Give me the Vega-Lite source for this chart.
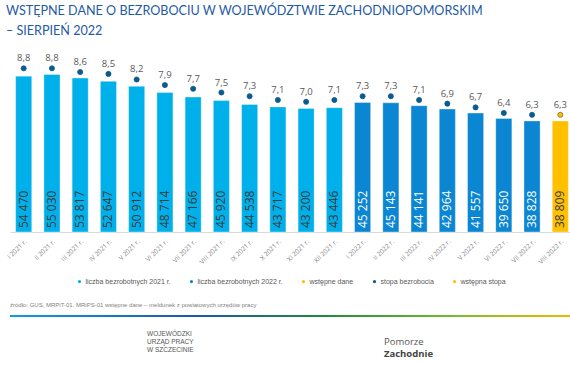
{
  "$schema": "https://vega.github.io/schema/vega-lite/v6.json",
  "padding": {"top": 5, "left": 5, "right": 1, "bottom": 0},
  "background": "white",
  "title": {
    "text": ["WSTĘPNE DANE O BEZROBOCIU W WOJEWÓDZTWIE ZACHODNIOPOMORSKIM", "– SIERPIEŃ 2022"],
    "anchor": "start",
    "frame": "bounds",
    "font": "Lato",
    "fontSize": 12.6,
    "lineHeight": 20,
    "fontWeight": "normal",
    "color": "#1f5aa6",
    "offset": 8
  },
  "config": {
    "view": {"stroke": null},
    "locale": {"number": {"decimal": ",", "thousands": " ", "grouping": [3], "currency": ["", " zł"]}}
  },
  "spacing": 36,
  "vconcat": [
    {
      "width": 564,
      "height": 186,
      "data": {"values": [
        {"m": "I 2021 r.", "n": 54470, "rate": 8.8, "typ": "liczba bezrobotnych 2021 r.", "rtyp": "stopa bezrobocia"},
        {"m": "II 2021 r.", "n": 55030, "rate": 8.8, "typ": "liczba bezrobotnych 2021 r.", "rtyp": "stopa bezrobocia"},
        {"m": "III 2021 r.", "n": 53817, "rate": 8.6, "typ": "liczba bezrobotnych 2021 r.", "rtyp": "stopa bezrobocia"},
        {"m": "IV 2021 r.", "n": 52647, "rate": 8.5, "typ": "liczba bezrobotnych 2021 r.", "rtyp": "stopa bezrobocia"},
        {"m": "V 2021 r.", "n": 50912, "rate": 8.2, "typ": "liczba bezrobotnych 2021 r.", "rtyp": "stopa bezrobocia"},
        {"m": "VI 2021 r.", "n": 48714, "rate": 7.9, "typ": "liczba bezrobotnych 2021 r.", "rtyp": "stopa bezrobocia"},
        {"m": "VII 2021 r.", "n": 47166, "rate": 7.7, "typ": "liczba bezrobotnych 2021 r.", "rtyp": "stopa bezrobocia"},
        {"m": "VIII 2021 r.", "n": 45920, "rate": 7.5, "typ": "liczba bezrobotnych 2021 r.", "rtyp": "stopa bezrobocia"},
        {"m": "IX 2021 r.", "n": 44538, "rate": 7.3, "typ": "liczba bezrobotnych 2021 r.", "rtyp": "stopa bezrobocia"},
        {"m": "X 2021 r.", "n": 43717, "rate": 7.1, "typ": "liczba bezrobotnych 2021 r.", "rtyp": "stopa bezrobocia"},
        {"m": "XI 2021 r.", "n": 43200, "rate": 7.0, "typ": "liczba bezrobotnych 2021 r.", "rtyp": "stopa bezrobocia"},
        {"m": "XII 2021 r.", "n": 43446, "rate": 7.1, "typ": "liczba bezrobotnych 2021 r.", "rtyp": "stopa bezrobocia"},
        {"m": "I 2022 r.", "n": 45252, "rate": 7.3, "typ": "liczba bezrobotnych 2022 r.", "rtyp": "stopa bezrobocia"},
        {"m": "II 2022 r.", "n": 45143, "rate": 7.3, "typ": "liczba bezrobotnych 2022 r.", "rtyp": "stopa bezrobocia"},
        {"m": "III 2022 r.", "n": 44141, "rate": 7.1, "typ": "liczba bezrobotnych 2022 r.", "rtyp": "stopa bezrobocia"},
        {"m": "IV 2022 r.", "n": 42964, "rate": 6.9, "typ": "liczba bezrobotnych 2022 r.", "rtyp": "stopa bezrobocia"},
        {"m": "V 2022 r.", "n": 41557, "rate": 6.7, "typ": "liczba bezrobotnych 2022 r.", "rtyp": "stopa bezrobocia"},
        {"m": "VI 2022 r.", "n": 39650, "rate": 6.4, "typ": "liczba bezrobotnych 2022 r.", "rtyp": "stopa bezrobocia"},
        {"m": "VII 2022 r.", "n": 38828, "rate": 6.3, "typ": "liczba bezrobotnych 2022 r.", "rtyp": "stopa bezrobocia"},
        {"m": "VIII 2022 r.", "n": 38809, "rate": 6.3, "typ": "wstępne dane", "rtyp": "wstępna stopa"}
      ]},
      "encoding": {
        "x": {
          "field": "m", "type": "nominal", "sort": null,
          "scale": {"paddingInner": 0.43, "paddingOuter": 0.2},
          "axis": {
            "title": null, "labelAngle": -45, "labelFontSize": 6.5, "labelFont": "Open Sans",
            "labelColor": "#7f7f7f", "ticks": false, "domainColor": "#d9d9d9", "labelPadding": 6
          }
        }
      },
      "layer": [
        {
          "layer": [
            {
              "mark": {"type": "bar", "stroke": "#ffffff", "strokeOpacity": 0.35, "strokeWidth": 1},
              "encoding": {
                "y": {"field": "n", "type": "quantitative", "scale": {"domain": [0, 64360]}, "axis": null},
                "color": {
                  "field": "typ", "type": "nominal",
                  "scale": {
                    "domain": ["liczba bezrobotnych 2021 r.", "liczba bezrobotnych 2022 r.", "wstępne dane", "stopa bezrobocia", "wstępna stopa"],
                    "range": ["#00b0ea", "#0a86d2", "#ffc000", "#0b5c8c", "#ffc000"]
                  },
                  "legend": {
                    "title": null, "orient": "none", "direction": "horizontal", "legendX": 66, "legendY": 232,
                    "labelFontSize": 7, "labelFont": "Liberation Sans", "labelColor": "#595959",
                    "symbolSize": 22, "columnPadding": 15, "labelOffset": 2.5, "labelLimit": 200,
                    "encode": {"symbols": {"update": {
                      "shape": {"signal": "datum.value === 'stopa bezrobocia' || datum.value === 'wstępna stopa' ? 'circle' : 'square'"},
                      "stroke": {"signal": "datum.value === 'wstępna stopa' ? '#7a6a3a' : 'transparent'"},
                      "strokeWidth": {"value": 0.8}
                    }}}
                  }
                }
              }
            },
            {
              "mark": {"type": "text", "angle": 270, "align": "left", "baseline": "middle", "dx": 4, "font": "Open Sans", "fontSize": 12},
              "encoding": {
                "y": {"datum": 0, "type": "quantitative"},
                "text": {"field": "n", "type": "quantitative", "format": ",d"},
                "color": {"condition": {"test": "datum.typ === 'liczba bezrobotnych 2022 r.'", "value": "#ffffff"}, "value": "#3a3a3a"}
              }
            }
          ]
        },
        {
          "layer": [
            {
              "mark": {"type": "point", "filled": true, "size": 26, "opacity": 1},
              "encoding": {
                "y": {"field": "rate", "type": "quantitative", "scale": {"domain": [0, 9.69]}, "axis": null},
                "color": {"field": "rtyp", "type": "nominal", "legend": {"title": null}},
                "stroke": {"condition": {"test": "datum.rtyp === 'wstępna stopa'", "value": "#7a6a3a"}, "value": "#0b5c8c"},
                "strokeWidth": {"value": 0.8}
              }
            },
            {
              "mark": {"type": "text", "dy": -10, "font": "Open Sans", "fontSize": 9.5, "color": "#595959"},
              "encoding": {
                "y": {"field": "rate", "type": "quantitative"},
                "text": {"field": "rate", "type": "quantitative", "format": ".1f"}
              }
            }
          ]
        }
      ],
      "resolve": {"scale": {"y": "independent"}}
    },
    {
      "spacing": 8,
      "vconcat": [
        {
          "width": 564,
          "height": 2,
          "title": {
            "text": "źródło: GUS, MRPiT-01, MRiPS-01 wstępne dane – meldunek z powiatowych urzędów pracy",
            "anchor": "start", "fontSize": 6, "font": "Liberation Sans", "fontWeight": "normal", "color": "#7f7f7f", "offset": 7
          },
          "data": {"values": [{"k": 1}]},
          "mark": {"type": "rect", "color": {"gradient": "linear", "x1": 0, "x2": 1, "y1": 0, "y2": 0, "stops": [
            {"offset": 0, "color": "#0aa0dc"},
            {"offset": 0.33, "color": "#1b5aa6"},
            {"offset": 0.55, "color": "#1a8a3c"},
            {"offset": 0.8, "color": "#7bbf2a"},
            {"offset": 1, "color": "#f5b800"}
          ]}},
          "encoding": {}
        },
        {
          "width": 564,
          "height": 30,
          "data": {"values": [
            {"org": "WUP", "label": ["WOJEWÓDZKI", "URZĄD PRACY", "W SZCZECINIE"]},
            {"org": "PZ", "label": "Pomorze"},
            {"org": "PZ", "label": "Zachodnie"}
          ]},
          "encoding": {
            "x": {"field": "org", "type": "nominal", "sort": ["WUP", "PZ"], "scale": {"type": "point", "padding": 0.69, "align": 0.419}, "axis": null}
          },
          "layer": [
            {
              "transform": [{"filter": "datum.org === 'WUP'"}],
              "mark": {"type": "text", "align": "left", "baseline": "middle", "font": "Liberation Sans", "fontSize": 6.5, "lineHeight": 8, "color": "#555555", "dy": -6},
              "encoding": {"text": {"field": "label"}}
            },
            {
              "transform": [{"filter": "datum.label === 'Pomorze'"}],
              "mark": {"type": "text", "align": "left", "baseline": "middle", "font": "Open Sans", "fontSize": 9.5, "color": "#555555", "dy": 2},
              "encoding": {"text": {"field": "label"}}
            },
            {
              "transform": [{"filter": "datum.label === 'Zachodnie'"}],
              "mark": {"type": "text", "align": "left", "baseline": "middle", "font": "Open Sans", "fontSize": 9.5, "fontWeight": "bold", "color": "#444444", "dy": 14},
              "encoding": {"text": {"field": "label"}}
            }
          ]
        }
      ]
    }
  ]
}
